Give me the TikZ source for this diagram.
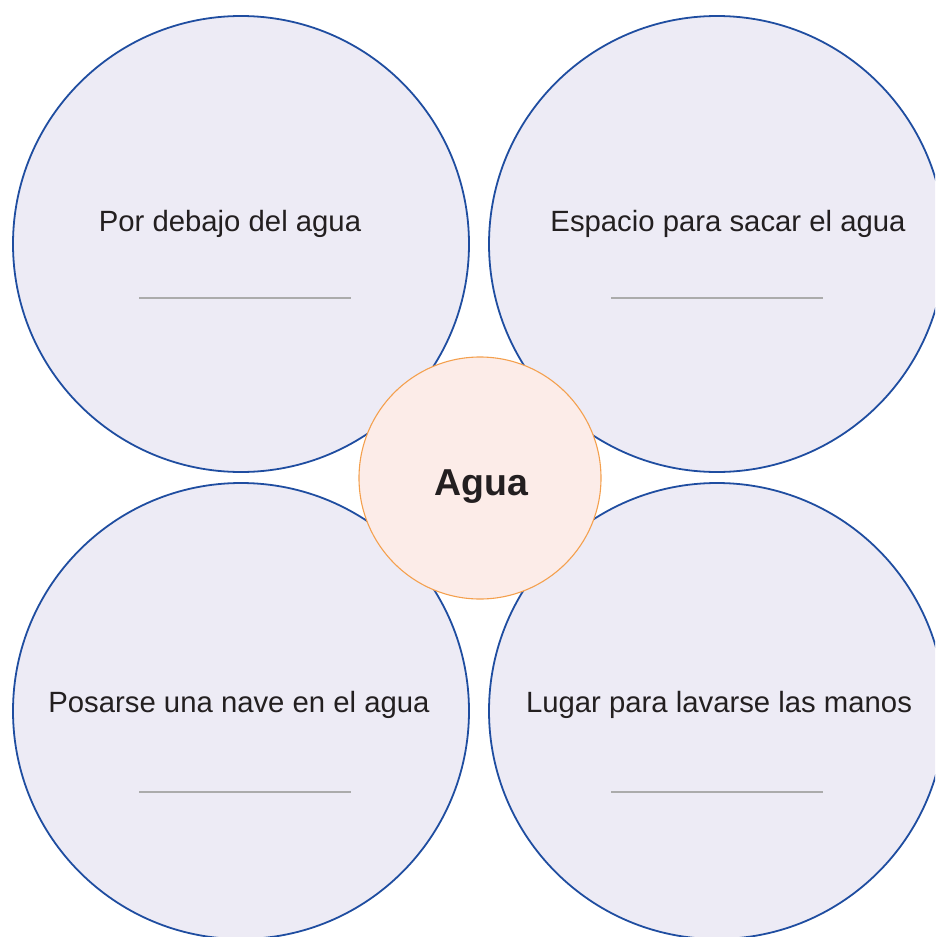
\documentclass[tikz,border=0pt]{standalone}
\usepackage{fontspec}
\setmainfont{Liberation Sans}
\definecolor{bigfill}{HTML}{EDEBF5}
\definecolor{bigline}{HTML}{1F4DA0}
\definecolor{midfill}{HTML}{FCECE8}
\definecolor{midline}{HTML}{F4A04E}
\definecolor{rule}{HTML}{ABABAB}
\definecolor{ink}{HTML}{231F20}
\begin{document}
\begin{tikzpicture}[x=1pt,y=-1pt,
  bigc/.style={circle,fill=bigfill,draw=bigline,line width=1.8pt,minimum size=456pt,inner sep=0pt},
  midc/.style={circle,fill=midfill,draw=midline,line width=1.1pt,minimum size=242pt,inner sep=0pt},
  lbl/.style={text=ink,font=\fontsize{29.3}{32}\selectfont,inner sep=0pt},
  rulel/.style={draw=rule,line width=2pt}]
\useasboundingbox (0,0) rectangle (935,937);
\begin{scope}
\clip (0,0) rectangle (935,937);
\node[bigc] (tl) at (241,244) {};
\node[bigc] (tr) at (717,244) {};
\node[bigc] (bl) at (241,711) {};
\node[bigc] (br) at (717,711) {};
\node[midc] (c) at (480,478) {};
\end{scope}
\node[lbl] (ttl) at (230,224) {Por debajo del agua};
\node[lbl] (ttr) at (728,224) {Espacio para sacar el agua};
\node[lbl] (tbl) at (239,705) {Posarse una nave en el agua};
\node[lbl] (tbr) at (719,705) {Lugar para lavarse las manos};
\node[text=ink,font=\bfseries\fontsize{37.5}{40}\selectfont,inner sep=0pt] (tc) at (481,487) {Agua};
\coordinate (l1a) at (139,298); \coordinate (l1b) at (351,298);
\coordinate (l2a) at (611,298); \coordinate (l2b) at (823,298);
\coordinate (l3a) at (139,792); \coordinate (l3b) at (351,792);
\coordinate (l4a) at (611,792); \coordinate (l4b) at (823,792);
\draw[rulel] (l1a) -- (l1b);
\draw[rulel] (l2a) -- (l2b);
\draw[rulel] (l3a) -- (l3b);
\draw[rulel] (l4a) -- (l4b);
\end{tikzpicture}
\end{document}
